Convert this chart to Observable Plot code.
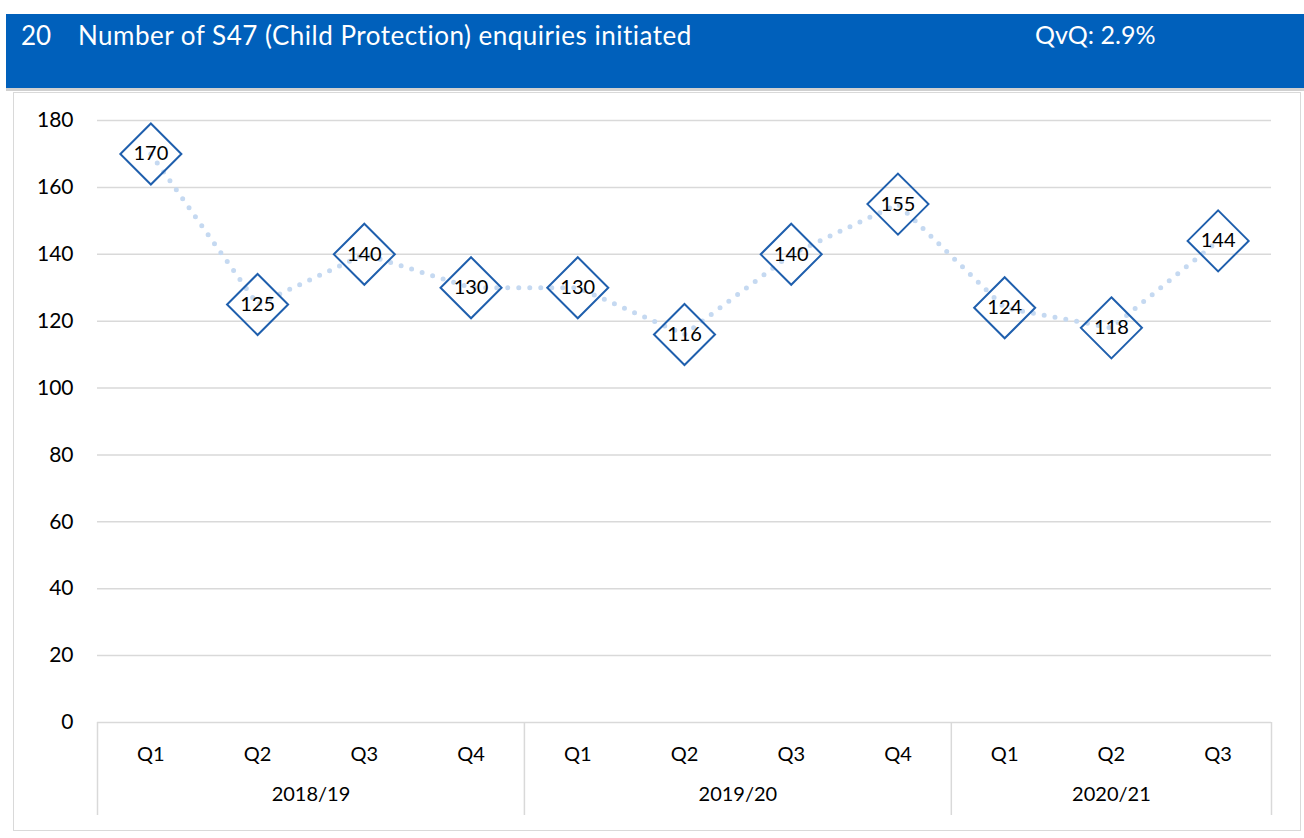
<!DOCTYPE html>
<html><head><meta charset="utf-8">
<script src="https://cdn.jsdelivr.net/npm/d3@7"></script>
<script src="https://cdn.jsdelivr.net/npm/@observablehq/plot@0.6"></script>
<style>
body{margin:0;background:#fff;font-family:Lato,"Open Sans",sans-serif;}
#header{position:absolute;left:6px;top:14px;width:1298px;height:74px;background:#0060BB;color:#fff;font-size:26px;}
#header span{position:absolute;top:5px;}
#sep{position:absolute;left:6px;top:88px;width:1298px;height:3px;background:#D0D0D0;}
#box{position:absolute;left:13px;top:92px;width:1286px;height:737px;border:1px solid #D9D9D9;}
#chart{position:absolute;left:0;top:92px;}
</style></head><body>
<div id="header"><span style="left:15px">20</span><span style="left:72px;letter-spacing:0.5px">Number of S47 (Child Protection) enquiries initiated</span><span style="left:1029px;font-size:25px">QvQ: 2.9%</span></div>
<div id="sep"></div>
<div id="box"></div>
<div id="chart"></div>
<script>
const quarters = ["Q1","Q2","Q3","Q4","Q1","Q2","Q3","Q4","Q1","Q2","Q3"];
const years = ["2018/19","2018/19","2018/19","2018/19","2019/20","2019/20","2019/20","2019/20","2020/21","2020/21","2020/21"];
const values = [170,125,140,130,130,116,140,155,124,118,144];
const yTicks = [0,20,40,60,80,100,120,140,160,180];

const data = values.map((v,i)=>({i, q: quarters[i], year: years[i], v}));
const groups = d3.groups(data, d=>d.year).map(([year, rows])=>({
  year, start: rows[0].i - 0.5, end: rows[rows.length-1].i + 0.5,
  mid: (rows[0].i + rows[rows.length-1].i)/2
}));
const bounds = Array.from(new Set(groups.flatMap(g=>[g.start,g.end])));

const chart = Plot.plot({
  width: 1304, height: 738,
  marginTop: 28, marginBottom: 108, marginLeft: 97, marginRight: 33,
  style: {fontFamily: "Lato, 'Open Sans', sans-serif", background: "transparent"},
  x: {type: "linear", domain: [-0.5, values.length - 0.5]},
  y: {domain: [0, 180]},
  marks: [
    Plot.gridY(yTicks, {stroke: "#D9D9D9", strokeOpacity: 1, strokeWidth: 1.5}),
    Plot.axisY(yTicks, {tickSize: 0, tickPadding: 24, fontSize: 21, fill: "#000", label: null}),
    Plot.axisX(d3.range(values.length), {tickSize: 0, tickPadding: 24, fontSize: 20, fill: "#000",
      tickFormat: i => quarters[i], label: null}),
    Plot.axisX(bounds, {tickSize: 93, text: null, stroke: "#D9D9D9", strokeWidth: 1.5, label: null, tickPadding: 0}),
    Plot.text(groups, {x: "mid", frameAnchor: "bottom", dy: 78, text: "year", fontSize: 20, fill: "#000"}),
    Plot.line(data, {x: "i", y: "v", stroke: "#C5D9F1", strokeWidth: 5, strokeDasharray: "0 11", strokeLinecap: "round"}),
    Plot.dot(data, {x: "i", y: "v", symbol: "diamond2", r: 27.5, fill: "none", stroke: "#1F5FAD", strokeWidth: 2}),
    Plot.text(data, {x: "i", y: "v", text: d => String(d.v), fontSize: 20, fill: "#000"})
  ]
});
document.getElementById("chart").appendChild(chart);
</script>
</body></html>
